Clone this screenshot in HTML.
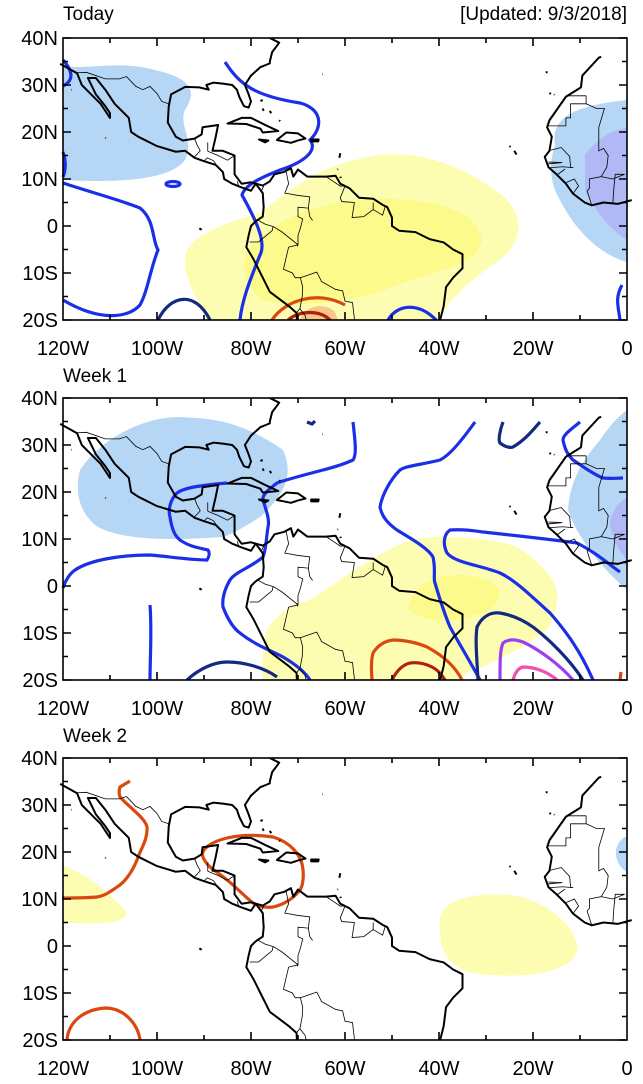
<!DOCTYPE html>
<html><head><meta charset="utf-8"><style>
html,body{margin:0;padding:0;background:#fff}
svg{display:block}
text{font-family:"Liberation Sans",sans-serif;fill:#000}
.c{fill:none;stroke:#000;stroke-width:2;vector-effect:non-scaling-stroke;stroke-linejoin:round}
.b{fill:none;stroke:#000;stroke-width:0.8;vector-effect:non-scaling-stroke}
.bl{fill:none;stroke:#1a2fe6;stroke-width:3.2}
.nv{fill:none;stroke:#132a7e;stroke-width:3.2}
.rd{fill:none;stroke:#d9490f;stroke-width:3.2}
.dr{fill:none;stroke:#b02010;stroke-width:3.2}
.pu{fill:none;stroke:#9b3ff0;stroke-width:3.2}
.pk{fill:none;stroke:#f050b0;stroke-width:3.2}
</style></head><body>
<svg width="643" height="1084" viewBox="0 0 643 1084" xmlns="http://www.w3.org/2000/svg">
<defs>
<g id="coast">
<path class="c" d="M-120.6,34.5 L-117,32.5 L-116,30 L-114,28 L-112,26 L-110,23 L-110,24 L-111,25.5 L-113,28 L-114.7,31.5 L-113,31.5 L-111,29 L-109,26 L-106,23 L-105.5,20 L-104,19 L-100,17 L-96,15.8 L-94,16 L-92,14.5 L-90,13.8 L-87.5,13 L-86,11.5 L-85.7,10 L-84,9 L-82,8.2 L-80,7.5 L-79,9 L-77.5,7 L-77.3,4 L-77.5,2 L-79,1 L-80,0 L-80.5,-2 L-81,-4.5 L-79.5,-7 L-78,-10 L-76,-14 L-72,-17 L-70.3,-18.5 L-70.2,-21"/>
<path class="c" d="M-76,40 L-74,39 L-75.5,37 L-76,35 L-76,34.6 L-78,33.8 L-80,32 L-81.3,30 L-80.5,28 L-80,26.5 L-80.5,25.2 L-81.5,25.5 L-82.5,27.5 L-83,29 L-84,30 L-86,30.3 L-88,30.5 L-89.5,30 L-89,29 L-91,29.5 L-94,29.6 L-97,28 L-97.5,25.5 L-97.7,22 L-96,19 L-94.5,18.2 L-92,18.6 L-90.5,19.5 L-90.3,21 L-87,21.5 L-87.5,19 L-88.2,16 L-86,16 L-83.5,15 L-83.5,11 L-82,9 L-80,9.3 L-77.5,8.6 L-76,9.5 L-75,11 L-73,11.5 L-71.5,12.3 L-71,10.5 L-70,12 L-68,10.5 L-64,10.5 L-62,10.7 L-61,9 L-59,8 L-57,6 L-54,5.8 L-52,4.5 L-51,4 L-50,1.8 L-50,0 L-48.5,-1 L-45,-1.3 L-42,-2.8 L-39,-3.5 L-37,-5 L-35,-6 L-35,-9 L-37,-11 L-38.5,-13 L-39,-17 L-40,-21"/>
<path class="c" d="M-5.5,36 L-6,35.8 L-9.5,32 L-9.8,29.5 L-13,27.5 L-16.5,22.5 L-17,21 L-16,19 L-16.5,16 L-17.5,14.7 L-16.7,12.5 L-15,11 L-13,9 L-11.5,6.9 L-9,5 L-7.5,4.4 L-5,5 L-2,4.7 L1,5.5"/>
<path class="c" d="M-85,21.8 L-82,23 L-80,23 L-77,21.5 L-74.2,20.2 L-77.5,19.9 L-78,20.7 L-81,21.7 Z"/>
<path class="c" d="M-74.5,18.3 L-72.5,19.9 L-70,19.7 L-68.4,18.6 L-70,18.2 L-71.5,17.7 Z"/>
<path class="c" d="M-78.3,18.4 L-76.3,18.2 L-77,17.8 Z M-67.2,18.4 L-65.6,18.4 L-65.7,18 L-67.2,18 Z"/>
<path class="c" d="M-78,26.6 L-77.5,26.8 M-77.5,25 L-77.3,24.5 M-76,24.5 L-75.7,24 M-74,22.5 L-73.8,22.3 M-61,15.5 L-61.2,14.5 M-61.5,12.1 L-61.6,12 M-61,10.5 L-60.9,10.2 M-91,-0.5 L-90.5,-0.8 M-24,16 L-23.5,15.2 M-25,17 L-24.8,16.8 M-16.5,28.3 L-16.2,28.1 M-15.5,28 L-15.4,27.9 M-17.3,32.7 L-16.9,32.7 M-64.8,32.3 L-64.7,32.3 M-111,18.8 L-110.9,18.7 M-118.3,29 L-118.2,29"/>
<path class="b" d="M-117,32.6 L-115,32.7 L-111,31.3 L-108,31.3 L-106.5,31.8 L-104.5,29.7 L-103,29 L-101.5,29.7 L-100,28.2 L-99,26.5 L-97.2,25.9 M-92,18.6 L-91.5,17.3 L-90.8,16 L-92.2,14.5 M-89.2,17.8 L-89.2,15.9 M-90,13.8 L-89.3,14.5 L-88,13.9 L-87.3,12.9 M-89.2,15.9 L-87,15 L-85,14 L-83.5,15 M-87.3,12.9 L-85.7,11 M-83.6,11 L-83.5,10.9 M-82.9,9.5 L-82.6,8.3 M-77.3,8.5 L-77.9,7.2 M-72.5,11.5 L-72,9 L-72.8,7 L-70,6.5 L-67.5,6.2 L-67.8,3.8 L-67.5,2 L-66.9,1.2 M-64,10.5 L-61,8.5 L-60,8.5 L-61,6 L-60.7,5.2 L-58,5 L-58.5,1.8 L-56,2 L-54,3.5 L-54,5 M-54,3.5 L-52,2.3 L-51.5,4 M-78.8,1.4 L-77,0.4 L-75.3,-0.1 L-75.5,-1 L-78.4,-3.4 L-80.3,-3.4 M-75.3,-0.1 L-73.5,-1.2 L-70,-4 L-70.1,-4.3 M-70,-4 L-72,-4.5 L-73.1,-9.2 L-71.2,-10 L-70.6,-11 L-69.5,-11 L-69,-13 L-69.1,-15 L-69.6,-17.6 L-70.3,-18.4 M-67.8,3.8 L-70,4 L-70,2 L-69,1.5 L-69.5,-0.5 L-70,-2 L-70,-4 M-69.5,-11 L-66,-9.8 L-65,-11.8 L-62,-13.5 L-60.5,-13.8 L-60,-16 L-58.4,-16.3 L-58,-19.8 L-60,-22 M-69.6,-17.6 L-68.5,-19 L-68,-21 M-8.7,27.7 L-8.7,26 L-6.5,25 L-4.8,25 L-6,21 L-6,16 L-5,16.5 L-4,15 L-4.3,12.5 L-5.5,10.5 L-8,10 L-8,8 L-8.5,7.5 M-13,27.7 L-8.7,27.7 M-17,21.3 L-13,21.3 L-13,23 L-12,23 L-12,26 L-8.7,26 M-16.4,16.1 L-14,16.7 L-12.2,14.8 L-12,12.5 L-11.4,12.4 M-16.7,13.6 L-13.8,13.5 L-16.8,13.2 M-16.7,12.4 L-13.7,12.6 L-11.4,12.4 M-15,10.8 L-13.2,12.1 M-13.3,9.1 L-11.2,10 L-10.3,8.5 L-11.5,6.9 M-8.5,7.5 L-7.5,4.4 M-3,5 L-2.8,8 L-2.5,11 L-0.5,11 M-5.5,10.5 L-3,10 L-0.5,11"/>
</g>
</defs>

<!-- ============ PANEL 1 ============ -->
<text x="63" y="20" font-size="19">Today</text>
<text x="627" y="20" font-size="19" text-anchor="end">[Updated: 9/3/2018]</text>
<svg x="0" y="38" width="643" height="282" viewBox="0 38 643 282" overflow="hidden">
<path fill="#b6d6f6" d="M63,66 C90,70 120,60 155,70 C190,78 198,90 185,110 C178,125 195,140 185,160 C170,180 120,183 63,180 Z"/>
<path fill="#b6d6f6" d="M555,145 C550,115 580,105 627,100 L627,262 C600,255 575,230 560,200 C548,180 550,160 555,145 Z"/>
<path fill="#b0b8f6" d="M585,155 C600,135 615,130 627,128 L627,240 C610,230 595,210 585,190 Z"/>
<path fill="#fdfdb2" d="M185,262 C182,238 220,225 262,212 C292,188 318,165 378,155 C432,150 470,172 502,195 C528,218 522,248 492,265 C468,283 448,300 440,320 L210,320 C196,300 186,282 185,262 Z"/>
<path fill="#fbfa8a" d="M248,250 C280,212 330,200 380,199 C432,198 478,210 482,240 C478,262 445,270 405,282 C365,300 305,310 262,300 C245,285 240,265 248,250 Z"/>
<path fill="#f8c888" d="M300,320 C305,305 325,302 335,312 L338,320 Z"/>
<path class="bl" d="M63,183 C90,192 120,200 140,208 C155,220 152,240 158,250 C150,270 148,290 140,305 C128,318 100,322 63,300"/>
<path class="bl" d="M63,60 C72,70 75,80 63,86 M63,152 C66,160 66,170 63,177"/>
<ellipse cx="173" cy="184" rx="7" ry="2.5" class="bl"/>
<path class="bl" d="M225,62 C240,85 255,96 300,103 C320,108 325,125 310,140 C318,150 305,162 280,170 C260,178 245,185 242,195 C250,210 268,240 260,255 C250,280 242,300 240,320"/>
<path class="bl" d="M388,320 C398,303 420,303 436,320"/>
<path class="bl" d="M620,320 C618,305 615,298 622,285"/>
<path class="nv" d="M158,320 C170,295 195,290 210,320"/>
<path class="rd" d="M272,320 C285,300 318,290 345,305"/>
<path class="dr" d="M288,320 C300,310 320,310 330,320"/>
<g transform="translate(627,226) scale(4.7,-4.7)"><use href="#coast"/></g>
</svg>

<!-- ============ PANEL 2 ============ -->
<text x="63" y="382" font-size="19">Week 1</text>
<svg x="0" y="398" width="643" height="282" viewBox="0 398 643 282" overflow="hidden">
<path fill="#b6d6f6" d="M80,470 C100,440 140,418 177,417 C210,418 240,420 283,450 C292,470 290,490 260,517 C240,530 225,537 223,537 C180,540 120,542 95,525 C78,510 75,490 80,470 Z"/>
<path fill="#b6d6f6" d="M568,510 C570,480 583,460 600,440 C610,425 620,415 627,410 L627,590 C610,575 580,545 568,510 Z"/>
<path fill="#b0b8f6" d="M610,520 C615,505 622,500 627,498 L627,560 C618,550 610,535 610,520 Z"/>
<path fill="#fdfdb2" d="M263,680 C262,655 263,640 267,630 C280,610 295,603 310,600 C340,580 360,565 383,553 C405,540 420,537 437,537 C470,537 500,540 517,547 C545,565 560,585 557,600 C555,620 548,630 543,633 C520,650 490,665 467,673 L460,680 Z"/>
<path fill="#fbfa8a" d="M408,607 C412,595 420,585 427,582 C440,575 455,575 467,575 C485,578 500,585 500,593 C498,605 490,610 483,613 C460,620 440,622 433,620 C420,618 410,612 408,607 Z"/>
<path class="bl" d="M353,422 C355,440 357,455 353,460 C340,466 330,468 323,470 C300,476 285,480 277,483 C268,490 262,495 263,500 C266,510 270,520 268,527 C266,540 266,550 263,557 C250,568 235,572 230,580 C224,590 222,600 223,607 C228,620 233,628 240,633 C255,645 270,650 283,657 C295,664 305,672 310,680"/>
<path class="bl" d="M227,483 C205,485 185,487 177,493 C170,500 168,510 170,517 C172,530 175,536 180,540 C190,547 200,548 208,550 C210,553 209,557 207,560 C190,560 165,556 150,555 C120,555 90,560 75,570 C68,575 65,582 63,588"/>
<path class="bl" d="M150,605 C152,630 150,660 150,680"/>
<path class="bl" d="M475,422 C462,440 450,455 440,460 C420,465 405,466 400,470 C390,480 382,495 380,507 C382,518 390,525 397,530 C410,538 428,548 433,557 C436,570 433,578 435,583 C440,600 445,615 450,627 C460,645 472,665 480,680"/>
<path class="bl" d="M593,680 C580,650 565,630 550,613 C530,595 515,580 500,573 C480,565 455,563 447,553 C443,545 443,535 450,530 C465,529 475,531 483,532 C520,536 555,540 577,543 C595,552 610,565 620,572"/>
<path class="bl" d="M580,422 C570,430 563,435 563,440 C565,450 568,455 573,460 C585,468 595,475 603,478 C612,479 618,478 623,478"/>
<path class="nv" d="M503,422 C500,430 498,440 500,443 C505,447 510,448 513,447 C525,440 533,430 540,422"/>
<path class="nv" d="M307,422 L312,424 L315,421"/>
<path class="nv" d="M478,680 C477,660 475,640 477,627 C483,615 492,612 500,613 C512,615 523,620 533,627 C550,640 570,660 583,680"/>
<path class="nv" d="M187,680 C200,668 215,662 227,662 C245,662 265,668 277,677"/>
<path class="pu" d="M500,680 C500,660 500,650 503,643 C510,638 517,640 523,642 C540,650 560,665 573,680"/>
<path class="pk" d="M513,680 C515,673 518,668 523,667 C535,667 548,672 557,680"/>
<path class="rd" d="M372,680 C371,668 371,660 373,653 C378,645 385,641 393,640 C405,640 418,643 427,647 C442,655 455,666 462,680"/>
<path class="dr" d="M392,680 C396,672 402,665 410,663 C418,662 426,664 432,667 C438,670 442,675 445,680"/>
<path class="rd" d="M620,680 L621,672"/>
<g transform="translate(627,586) scale(4.7,-4.7)"><use href="#coast"/></g>
</svg>

<!-- ============ PANEL 3 ============ -->
<text x="63" y="742" font-size="19">Week 2</text>
<svg x="0" y="758" width="643" height="282" viewBox="0 758 643 282" overflow="hidden">
<path fill="#fdfdb2" d="M63,865 C80,872 92,880 100,887 C112,897 122,906 127,913 C125,920 115,922 107,923 C90,924 75,923 63,923 Z"/>
<path fill="#fdfdb2" d="M440,925 C438,900 470,892 510,895 C550,900 578,930 578,950 C572,972 530,978 490,975 C458,974 438,960 440,925 Z"/>
<path fill="#b6d6f6" d="M616,850 C618,842 622,838 627,836 L627,872 C620,868 615,860 616,850 Z"/>
<path class="rd" d="M130,781 L120,787 C119,790 119,794 120,797 C130,808 145,818 147,827 C148,840 140,850 137,860 C132,872 125,882 117,887 C110,892 104,896 97,897 C85,898 72,898 62,898"/>
<path class="rd" d="M203,857 C200,850 210,842 227,838 C245,834 260,835 273,837 C290,842 302,855 303,870 C304,880 302,887 300,890 C292,900 282,905 273,907 C265,908 258,906 253,903 C243,895 235,886 227,880 C220,874 214,870 210,867 C206,863 204,860 203,857 Z"/>
<path class="rd" d="M67,1040 C68,1025 80,1010 105,1008 C125,1008 138,1025 140,1040"/>
<g transform="translate(627,946) scale(4.7,-4.7)"><use href="#coast"/></g>
</svg>

<!-- ============ AXES ============ -->
<g id="ax" fill="none" stroke="#000" stroke-width="1.6">
<rect x="63" y="38" width="564" height="282"/>
<path d="M63,38h8M63,85h8M63,132h8M63,179h8M63,226h8M63,273h8M63,320h8 M627,38h-8M627,85h-8M627,132h-8M627,179h-8M627,226h-8M627,273h-8M627,320h-8
M63,61.5h5M63,108.5h5M63,155.5h5M63,202.5h5M63,249.5h5M63,296.5h5 M627,61.5h-5M627,108.5h-5M627,155.5h-5M627,202.5h-5M627,249.5h-5M627,296.5h-5
M157,38v8M251,38v8M345,38v8M439,38v8M533,38v8 M157,320v-8M251,320v-8M345,320v-8M439,320v-8M533,320v-8
M110,38v5M204,38v5M298,38v5M392,38v5M486,38v5M580,38v5 M110,320v-5M204,320v-5M298,320v-5M392,320v-5M486,320v-5M580,320v-5"/>
</g>
<use href="#ax" y="360"/>
<use href="#ax" y="720"/>
<g id="lab" font-size="20">
<text x="58" y="45" text-anchor="end">40N</text>
<text x="58" y="92" text-anchor="end">30N</text>
<text x="58" y="139" text-anchor="end">20N</text>
<text x="58" y="186" text-anchor="end">10N</text>
<text x="58" y="233" text-anchor="end">0</text>
<text x="58" y="280" text-anchor="end">10S</text>
<text x="58" y="327" text-anchor="end">20S</text>
<text x="63" y="355" text-anchor="middle">120W</text>
<text x="157" y="355" text-anchor="middle">100W</text>
<text x="251" y="355" text-anchor="middle">80W</text>
<text x="345" y="355" text-anchor="middle">60W</text>
<text x="439" y="355" text-anchor="middle">40W</text>
<text x="533" y="355" text-anchor="middle">20W</text>
<text x="627" y="355" text-anchor="middle">0</text>
</g>
<use href="#lab" y="360"/>
<use href="#lab" y="720"/>
</svg>
</body></html>
